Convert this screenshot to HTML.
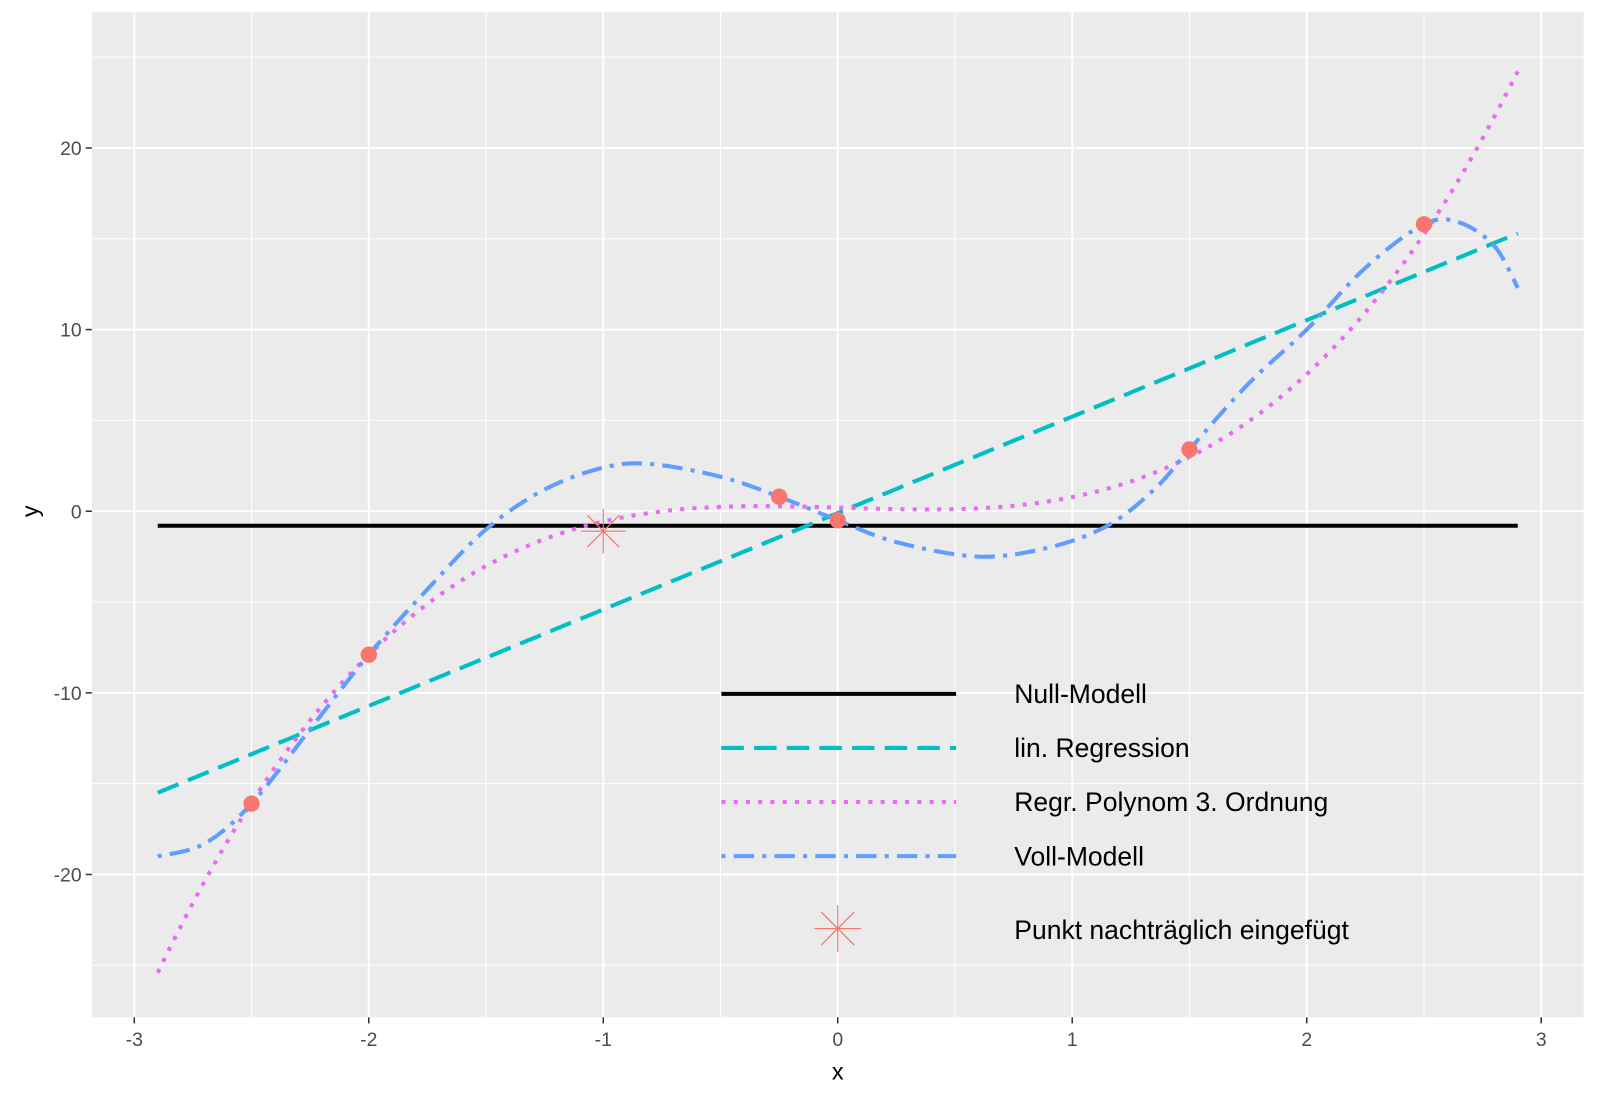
<!DOCTYPE html>
<html><head><meta charset="utf-8"><style>
body{margin:0;background:#fff}
svg{display:block;font-family:"Liberation Sans",sans-serif}
</style></head><body>
<svg width="1600" height="1097" xmlns="http://www.w3.org/2000/svg"><g id="s" transform="scale(1.0204)"></g></svg>
<script>
const X=x=>821+229.8*x, Y=y=>501-17.8*y;
let h='';
h+='<rect x="90" y="12" width="1462" height="985" fill="#ebebeb"/>';
for(let v=-2.5;v<=3;v+=1)h+=`<line x1="${X(v)}" x2="${X(v)}" y1="12" y2="997" stroke="#fff" stroke-width="1"/>`;
for(let v=-25;v<=25;v+=10)h+=`<line x1="90" x2="1552" y1="${Y(v)}" y2="${Y(v)}" stroke="#fff" stroke-width="1"/>`;
for(let v=-3;v<=3;v++){h+=`<line x1="${X(v)}" x2="${X(v)}" y1="12" y2="997" stroke="#fff" stroke-width="2"/>`;
 h+=`<line x1="${X(v)}" x2="${X(v)}" y1="997" y2="1003" stroke="#333" stroke-width="1.5"/>`;
 h+=`<text x="${X(v)}" y="1025" font-size="19" fill="#4d4d4d" text-anchor="middle">${v}</text>`;}
for(let v=-20;v<=20;v+=10){h+=`<line x1="90" x2="1552" y1="${Y(v)}" y2="${Y(v)}" stroke="#fff" stroke-width="2"/>`;
 h+=`<line x1="84" x2="90" y1="${Y(v)}" y2="${Y(v)}" stroke="#333" stroke-width="1.5"/>`;
 h+=`<text x="80" y="${Y(v)+7}" font-size="19" fill="#4d4d4d" text-anchor="end">${v}</text>`;}
h+=`<text x="821" y="1058" font-size="23" text-anchor="middle">x</text>`;
h+=`<text transform="translate(37,501) rotate(-90)" font-size="23" text-anchor="middle">y</text>`;
function poly(f){let p=[];for(let x=-2.9;x<=2.9001;x+=0.02)p.push(X(x).toFixed(1)+','+Y(f(x)).toFixed(1));return p.join(' ');}
h+=`<line x1="${X(-2.9)}" x2="${X(2.9)}" y1="${Y(-0.8)}" y2="${Y(-0.8)}" stroke="#000" stroke-width="4"/>`;
h+=`<polyline points="${poly(x=>5.31*x-0.1)}" fill="none" stroke="#00bfc4" stroke-width="4" stroke-dasharray="22 10"/>`;
h+=`<polyline points="${poly(x=>1.064*x*x*x-0.095*x*x-0.393*x+0.2)}" fill="none" stroke="#e76bf3" stroke-width="4" stroke-dasharray="4 8"/>`;
const pts=[[-2.9,-19],[-2.7,-18.3],[-2.5,-16.1],[-2.25,-12],[-2,-7.9],[-1.75,-4.3],[-1.5,-1],[-1.25,1.2],[-1,2.4],[-0.8,2.6],[-0.5,1.9],[-0.25,0.8],[0,-0.5],[0.25,-1.7],[0.6,-2.5],[0.9,-2.0],[1.15,-0.8],[1.35,1.2],[1.5,3.4],[1.75,7.0],[2,10],[2.25,13.4],[2.5,15.8],[2.65,15.9],[2.8,14.6],[2.9,12.3]].map(p=>[X(p[0]),Y(p[1])]);
let d=`M${pts[0][0]},${pts[0][1]}`;
for(let i=0;i<pts.length-1;i++){const p0=pts[Math.max(0,i-1)],p1=pts[i],p2=pts[i+1],p3=pts[Math.min(pts.length-1,i+2)];
 d+=` C${p1[0]+(p2[0]-p0[0])/6},${p1[1]+(p2[1]-p0[1])/6} ${p2[0]-(p3[0]-p1[0])/6},${p2[1]-(p3[1]-p1[1])/6} ${p2[0]},${p2[1]}`;}
h+=`<path d="${d}" fill="none" stroke="#619cff" stroke-width="4" stroke-dasharray="4 8 20 8"/>`;
[[-2.5,-16.1],[-2,-7.9],[-0.25,0.8],[0,-0.5],[1.5,3.4],[2.5,15.8]].forEach(p=>h+=`<circle cx="${X(p[0])}" cy="${Y(p[1])}" r="8" fill="#f8766d"/>`);
function star(cx,cy,r){let s='';for(let a=0;a<180;a+=45){const t=a*Math.PI/180;s+=`<line x1="${cx-r*Math.cos(t)}" y1="${cy-r*Math.sin(t)}" x2="${cx+r*Math.cos(t)}" y2="${cy+r*Math.sin(t)}" stroke="#f8766d" stroke-width="1.2"/>`;}return s;}
h+=star(X(-1),Y(-1.1),22);
h+=`<line x1="707" x2="937" y1="680" y2="680" stroke="#000" stroke-width="4"/>`;
h+=`<line x1="707" x2="937" y1="733" y2="733" stroke="#00bfc4" stroke-width="4" stroke-dasharray="22 10"/>`;
h+=`<line x1="707" x2="937" y1="786" y2="786" stroke="#e76bf3" stroke-width="4" stroke-dasharray="4 8"/>`;
h+=`<line x1="707" x2="937" y1="839" y2="839" stroke="#619cff" stroke-width="4" stroke-dasharray="4 8 20 8"/>`;
h+=star(821,910,23);
[["Null-Modell",680],["lin. Regression",733],["Regr. Polynom 3. Ordnung",786],["Voll-Modell",839],["Punkt nachträglich eingefügt",911]].forEach(t=>h+=`<text x="994" y="${t[1]+9}" font-size="26">${t[0]}</text>`);
document.getElementById('s').innerHTML=h;
</script>
</body></html>
